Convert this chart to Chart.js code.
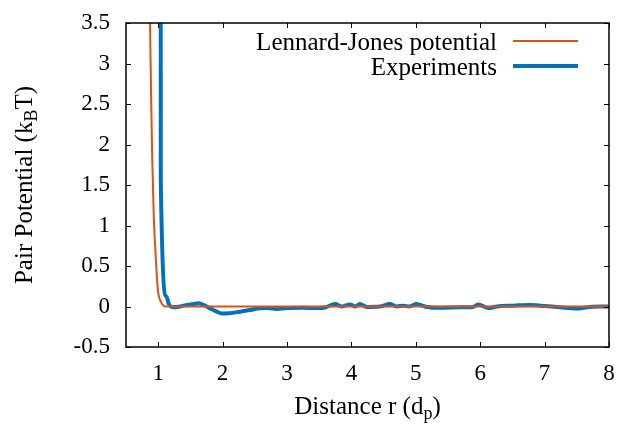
<!DOCTYPE html>
<html>
<head>
<meta charset="utf-8">
<script src="https://cdn.jsdelivr.net/npm/chart.js@4.4.1/dist/chart.umd.min.js"></script>
<style>
  html, body { margin: 0; padding: 0; background: #fff; }
  #wrap { width: 618px; height: 425px; }
</style>
</head>
<body>
<div id="wrap"><canvas id="myChart"></canvas></div>
<script>
// Lennard-Jones curve
const ljR = [0.85, 0.873, 0.89, 0.908, 0.93, 0.95, 0.966, 0.98, 1.0, 1.02, 1.04, 1.07, 1.1, 1.5, 2, 3, 4, 5, 6, 7, 8];
const ljU = [5.0, 3.5, 2.6, 1.8, 1.15, 0.78, 0.55, 0.36, 0.17, 0.1, 0.06, 0.02, 0, 0, 0, 0, 0, 0, 0, 0, 0];

// measured pair potential
const expR = [1.039, 1.04, 1.13, 1.16, 1.23, 1.34, 1.45, 1.55, 1.62, 1.70, 1.80, 1.90, 1.99, 2.10, 2.27, 2.43, 2.58, 2.70, 2.84, 3.00, 3.25, 3.51, 3.60, 3.745, 3.85, 3.98, 4.06, 4.13, 4.24, 4.44, 4.60, 4.70, 4.81, 4.90, 5.01, 5.17, 5.38, 5.69, 5.89, 5.97, 6.13, 6.26, 6.51, 6.77, 6.93, 7.24, 7.50, 7.70, 7.99];
const expU = [6.0, 1.55, 0.12, 0.04, -0.01, 0.0, 0.02, 0.03, 0.04, 0.02, -0.02, -0.06, -0.085, -0.083, -0.064, -0.043, -0.022, -0.02, -0.03, -0.02, -0.015, -0.02, -0.01, 0.03, 0.0, 0.025, 0.0, 0.03, -0.005, 0.0, 0.03, 0.0, 0.01, 0.0, 0.03, -0.005, -0.015, -0.01, -0.005, 0.025, -0.02, 0.0, 0.01, 0.02, 0.01, -0.01, -0.025, -0.005, 0.0];

const xTicks = [1, 2, 3, 4, 5, 6, 7, 8];
const yTicks = [-0.5, 0, 0.5, 1, 1.5, 2, 2.5, 3, 3.5];

const seriesNames = ['Lennard-Jones potential', 'Experiments'];
const colLJ = 'rgb(217,83,25)';
const colExp = 'rgb(0,114,189)';

const serif = "'Liberation Serif', 'Times New Roman', serif";

// axis titles with subscripts, legend, inward ticks and frame (gnuplot look)
const gnuplotBits = {
    id: 'gnuplotBits',
    afterDraw(chart) {
        const ctx = chart.ctx;
        const a = chart.chartArea;
        const xs = chart.scales.x, ys = chart.scales.y;
        ctx.save();
        ctx.strokeStyle = '#000';
        ctx.lineWidth = 1;
        // ticks inward, mirrored
        ctx.beginPath();
        xTicks.forEach(v => {
            const px = Math.round(xs.getPixelForValue(v)) + 0.5;
            ctx.moveTo(px, a.bottom); ctx.lineTo(px, a.bottom - 5);
            ctx.moveTo(px, a.top); ctx.lineTo(px, a.top + 5);
        });
        yTicks.forEach(v => {
            const py = Math.round(ys.getPixelForValue(v)) + 0.5;
            ctx.moveTo(a.left, py); ctx.lineTo(a.left + 5, py);
            ctx.moveTo(a.right, py); ctx.lineTo(a.right - 5, py);
        });
        ctx.stroke();
        ctx.lineWidth = 1.5;
        ctx.strokeRect(a.left, a.top, a.right - a.left, a.bottom - a.top);

        // legend
        ctx.fillStyle = '#000';
        ctx.font = '25px ' + serif;
        ctx.textAlign = 'right';
        ctx.textBaseline = 'alphabetic';
        const rows = [[seriesNames[0], colLJ, 2, 50], [seriesNames[1], colExp, 4, 75]];
        rows.forEach(r => {
            ctx.fillText(r[0], 497, r[3]);
            ctx.strokeStyle = r[1];
            ctx.lineWidth = r[2];
            ctx.beginPath();
            ctx.moveTo(513, r[3] - 9);
            ctx.lineTo(578, r[3] - 9);
            ctx.stroke();
        });

        // x title: Distance r (d_p)
        ctx.textAlign = 'left';
        const big = '25px ' + serif, small = '18px ' + serif;
        const xParts = [['Distance r (d', big, 0], ['p', small, 5], [')', big, 0]];
        let w = 0;
        xParts.forEach(p => { ctx.font = p[1]; w += ctx.measureText(p[0]).width; });
        let cx = (a.left + a.right) / 2 - w / 2;
        xParts.forEach(p => {
            ctx.font = p[1];
            ctx.fillText(p[0], cx, 414 + p[2]);
            cx += ctx.measureText(p[0]).width;
        });

        // y title: Pair Potential (k_B T)
        const yParts = [['Pair Potential (k', big, 0], ['B', small, 5], ['T)', big, 0]];
        w = 0;
        yParts.forEach(p => { ctx.font = p[1]; w += ctx.measureText(p[0]).width; });
        ctx.translate(32, (a.top + a.bottom) / 2);
        ctx.rotate(-Math.PI / 2);
        cx = -w / 2;
        yParts.forEach(p => {
            ctx.font = p[1];
            ctx.fillText(p[0], cx, p[2]);
            cx += ctx.measureText(p[0]).width;
        });
        ctx.restore();
    }
};

const ctx = document.getElementById('myChart').getContext('2d');
const myChart = new Chart(ctx, {
    type: 'line',
    data: {
        datasets: [
            {
                label: seriesNames[0],
                data: ljR.map((r, i) => ({ x: r, y: ljU[i] })),
                borderColor: colLJ,
                borderWidth: 2,
                pointRadius: 0,
                cubicInterpolationMode: 'monotone'
            },
            {
                label: seriesNames[1],
                data: expR.map((r, i) => ({ x: r, y: expU[i] })),
                borderColor: colExp,
                borderWidth: 4,
                pointRadius: 0,
                cubicInterpolationMode: 'monotone'
            }
        ]
    },
    options: {
        responsive: true,
        maintainAspectRatio: false,
        animation: false,
        layout: { padding: { top: 23, right: 9, left: 0, bottom: 0 } },
        plugins: {
            legend: { display: false },
            tooltip: { enabled: false }
        },
        scales: {
            x: {
                type: 'linear',
                min: 0.5,
                max: 8,
                grid: { display: false, drawTicks: false },
                border: { display: false },
                afterFit: s => { s.height = 78; s.paddingLeft = 0; s.paddingRight = 0; },
                afterBuildTicks: s => { s.ticks = xTicks.map(v => ({ value: v })); },
                ticks: {
                    padding: 13,
                    color: '#000',
                    font: { family: serif, size: 23 },
                    maxRotation: 0,
                    callback: v => String(v)
                }
            },
            y: {
                type: 'linear',
                min: -0.5,
                max: 3.5,
                grid: { display: false, drawTicks: false },
                border: { display: false },
                afterFit: s => { s.width = 126; s.paddingTop = 0; s.paddingBottom = 0; },
                afterBuildTicks: s => { s.ticks = yTicks.map(v => ({ value: v })); },
                ticks: {
                    padding: 16,
                    color: '#000',
                    font: { family: serif, size: 23 },
                    callback: v => String(v)
                }
            }
        }
    },
    plugins: [gnuplotBits]
});
</script>
</body>
</html>
